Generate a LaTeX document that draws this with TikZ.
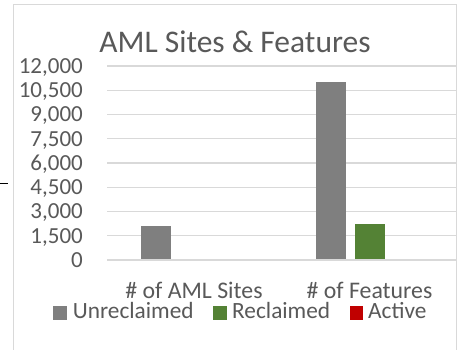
\documentclass[tikz,border=0pt]{standalone}
\usepackage{fontspec}
\setmainfont{Carlito}
\definecolor{txtgray}{HTML}{595959}
\definecolor{gridgray}{HTML}{D9D9D9}
\definecolor{barU}{HTML}{7F7F7F}
\definecolor{barR}{HTML}{548235}
\definecolor{barA}{HTML}{C00000}
\begin{document}
\begin{tikzpicture}[x=1pt,y=-1pt,
  txt/.style={text=txtgray,inner sep=0pt,font=\fontsize{23}{26}\selectfont},
  ticklab/.style={txt,anchor=base east},
  titlelab/.style={txt,anchor=base,font=\fontsize{31.5}{36}\selectfont},
  catlab/.style={txt,anchor=base,font=\fontsize{23.8}{27}\selectfont},
  leglab/.style={txt,anchor=base west,font=\fontsize{23.3}{27}\selectfont},
  grid line/.style={draw=gridgray,line width=1.3pt},
  frame line/.style={draw=gridgray,line width=1.5pt}]
\useasboundingbox (0,0) rectangle (458,350);
\fill[white] (0,0) rectangle (458,350);
% frame
\draw[frame line] (13.5,352) -- (13.5,4.5) -- (456.5,4.5) -- (456.5,352);
% stray black tick
\draw[black,line width=1pt] (0,183.3) -- (8,183.3);
% gridlines and tick labels
\foreach \k/\lab in {0/0,1/{1,500},2/{3,000},3/{4,500},4/{6,000},5/{7,500},6/{9,000},7/{10,500},8/{12,000}}{
  \draw[grid line] (107,260-\k*24.25) -- (456,260-\k*24.25);
  \node[ticklab] (tick\k) at (83,267.3-\k*24.25) {\lab};
}
% bars
\fill[barU] (140.7,225.7) rectangle (171,260);
\fill[barR] (180,259) rectangle (209.5,260);
\fill[barU] (316.3,81.7) rectangle (346.3,260);
\fill[barR] (355,224.3) rectangle (385.3,260);
\draw[grid line] (107,260) -- (456,260);
% title
\node[titlelab] (title) at (235,52.5) {AML Sites \& Features};
% category labels
\node[catlab] (cat1) at (194,298) {\# of AML Sites};
\node[catlab] (cat2) at (369.5,298) {\# of Features};
% legend
\fill[barU] (53,306) rectangle (67,319.5);
\node[leglab] (legU) at (72.7,318.3) {Unreclaimed};
\fill[barR] (213.3,306) rectangle (227,319.5);
\node[leglab] (legR) at (232,318.3) {Reclaimed};
\fill[barA] (349.7,306) rectangle (363,319.5);
\node[leglab] (legA) at (368,318.3) {Active};
\end{tikzpicture}
\end{document}
